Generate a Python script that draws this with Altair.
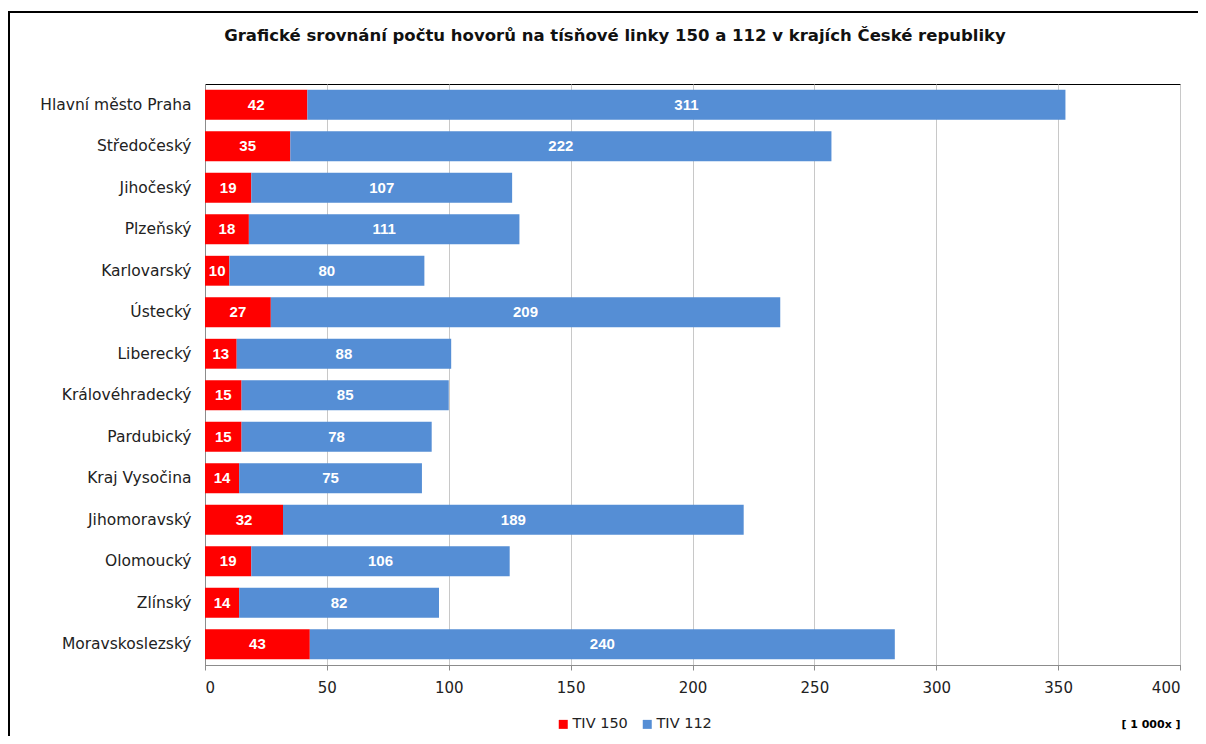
import altair as alt
import pandas as pd

regions = ["Hlavní město Praha", "Středočeský", "Jihočeský", "Plzeňský", "Karlovarský",
           "Ústecký", "Liberecký", "Královéhradecký", "Pardubický", "Kraj Vysočina",
           "Jihomoravský", "Olomoucký", "Zlínský", "Moravskoslezský"]
tiv150 = [42, 35, 19, 18, 10, 27, 13, 15, 15, 14, 32, 19, 14, 43]
tiv112 = [311, 222, 107, 111, 80, 209, 88, 85, 78, 75, 189, 106, 82, 240]
series = ["TIV 150", "TIV 112"]
colors = ["#ff0000", "#558ed5"]
x_ticks = [0, 50, 100, 150, 200, 250, 300, 350, 400]
title_text = "Grafické srovnání počtu hovorů na tísňové linky 150 a 112 v krajích České republiky"
unit_text = "[ 1 000x ]"

rows = []
for r, a, b in zip(regions, tiv150, tiv112):
    rows.append({"kraj": r, "serie": series[0], "hodnota": a, "poradi": 0})
    rows.append({"kraj": r, "serie": series[1], "hodnota": b, "poradi": 1})
df = pd.DataFrame(rows)

AX_FONT = "DejaVu Sans"

y_enc = alt.Y("kraj:N", sort=regions, title=None,
              scale=alt.Scale(paddingInner=0.28, paddingOuter=0.14),
              axis=alt.Axis(labelFont=AX_FONT, labelFontSize=15.5, labelColor="#222222",
                            labelPadding=14, ticks=False, domainColor="#8c8c8c",
                            labelLimit=300))

base = alt.Chart(df).transform_stack(
    stack="hodnota", groupby=["kraj"], as_=["x0", "x1"],
    sort=[alt.SortField("poradi", order="ascending")]
).transform_calculate(mid="(datum.x0 + datum.x1) / 2")

bars = base.mark_bar().encode(
    x=alt.X("x0:Q", title=None,
            scale=alt.Scale(domain=[0, 400], nice=False),
            axis=alt.Axis(values=x_ticks, labelFont=AX_FONT, labelFontSize=15,
                          labelColor="#222222", tickColor="#8c8c8c", tickSize=5,
                          labelPadding=10, domainColor="#8c8c8c",
                          gridColor="#c8c8c8", grid=True)),
    x2="x1:Q",
    y=y_enc,
    color=alt.Color("serie:N", sort=series, title=None,
                    scale=alt.Scale(domain=series, range=colors),
                    legend=alt.Legend(orient="none", direction="horizontal",
                                      legendX=351, legendY=633, symbolType="square",
                                      symbolSize=81, symbolStrokeWidth=0,
                                      labelFont=AX_FONT, labelFontSize=14.5,
                                      labelColor="#222222", columnPadding=12,
                                      labelOffset=2)),
)

labels = base.mark_text(font="Liberation Sans", fontWeight="bold", fontSize=15,
                        color="white", baseline="middle").encode(
    x="mid:Q",
    y=alt.Y("kraj:N", sort=regions),
    text="hodnota:Q",
)

texts = pd.DataFrame({"t": [title_text, unit_text]})

title = alt.Chart(texts).transform_filter(alt.datum.t == title_text).mark_text(
    font="DejaVu Sans", fontWeight="bold", fontSize=16.5, color="#111111",
    baseline="middle", align="center").encode(
    text="t:N", x=alt.value(410), y=alt.value(-48))

unit = alt.Chart(texts).transform_filter(alt.datum.t == unit_text).mark_text(
    font="DejaVu Sans", fontWeight="bold", fontSize=11, color="#000000",
    baseline="middle", align="center").encode(
    text="t:N", x=alt.value(946), y=alt.value(641))

one = pd.DataFrame({"a": [0]})
frame_top = alt.Chart(one).mark_rule(color="black", strokeWidth=2, clip=False).encode(
    x=alt.value(-196), x2=alt.value(1100), y=alt.value(-72))
frame_left = alt.Chart(one).mark_rule(color="black", strokeWidth=2, clip=False).encode(
    x=alt.value(-196), y=alt.value(-73), y2=alt.value(700))

chart = alt.layer(bars, labels, title, unit, frame_top, frame_left).properties(
    width=975, height=581,
    autosize=alt.AutoSizeParams(type="none"),
    padding={"left": 197, "top": 76, "right": 18, "bottom": 71},
).configure_view(stroke="black", strokeWidth=1)

chart.save("out.html", embed_options={"renderer": "svg", "actions": False})
